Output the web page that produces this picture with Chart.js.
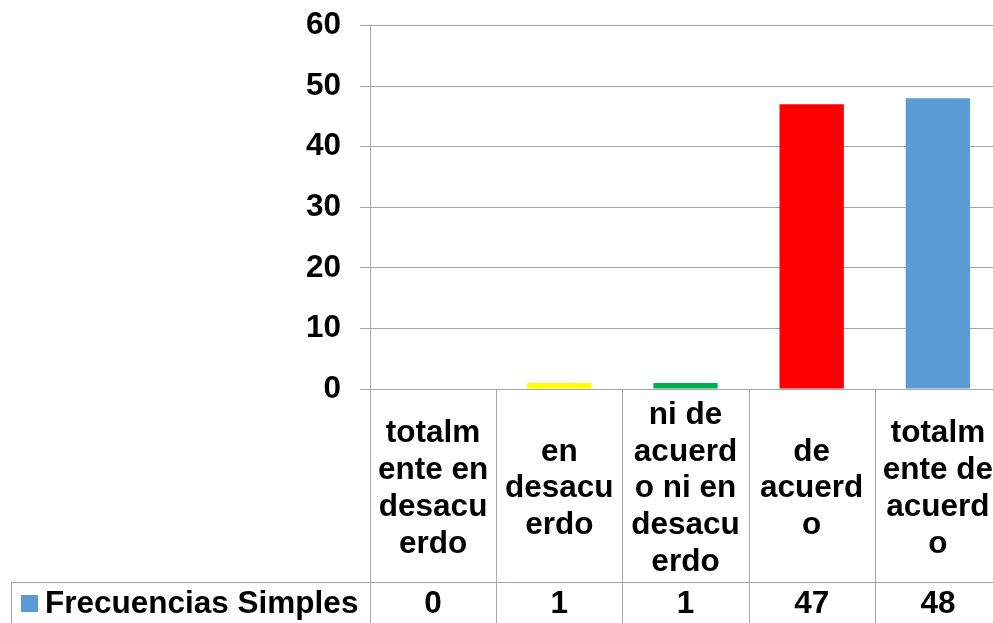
<!DOCTYPE html>
<html>
<head>
<meta charset="utf-8">
<script src="https://cdn.jsdelivr.net/npm/chart.js@4/dist/chart.umd.min.js"></script>
<style>
  html, body { margin: 0; padding: 0; background: #ffffff; overflow: hidden; }
  #wrap { width: 993px; height: 623px; overflow: hidden; position: relative; }
  canvas { display: block; }
</style>
</head>
<body>
<div id="wrap"><canvas id="c" width="1002" height="623"></canvas></div>
<script>
// ---- data ----
const categories = [
  ["totalm", "ente en", "desacu", "erdo"],
  ["en", "desacu", "erdo"],
  ["ni de", "acuerd", "o ni en", "desacu", "erdo"],
  ["de", "acuerd", "o"],
  ["totalm", "ente de", "acuerd", "o"]
];
const seriesName = "Frecuencias Simples";
const frecuencias = [0, 1, 1, 47, 48];
const yMin = 0;
const yMax = 60;
const yStep = 10;

// ---- styles ----
const barColors = ["#5B9BD5", "#FFFF00", "#00B050", "#FF0000", "#5B9BD5"];
const legendColor = "#5B9BD5";
const lineColor = "#A6A6A6";
const fontFamily = '"Liberation Sans", Arial, sans-serif';
const fontSize = 31.5;

const tablePlugin = {
  id: "dataTable",
  afterDraw(chart) {
    const ctx = chart.ctx;
    const x = chart.scales.x;
    const area = chart.chartArea;
    const H = chart.height;
    const rowTop = 582.5;
    const n = categories.length;
    const step = (x.getPixelForValue(1) - x.getPixelForValue(0));
    ctx.save();
    ctx.strokeStyle = lineColor;
    ctx.lineWidth = 1;
    ctx.beginPath();
    ctx.moveTo(11, rowTop);
    ctx.lineTo(chart.width, rowTop);
    ctx.moveTo(11.5, rowTop);
    ctx.lineTo(11.5, H);
    for (let i = 0; i <= n; i++) {
      const bx = Math.round(x.getPixelForValue(0) - step / 2 + i * step) + 0.5;
      ctx.moveTo(bx, area.bottom);
      ctx.lineTo(bx, H);
    }
    ctx.stroke();

    ctx.fillStyle = legendColor;
    ctx.fillRect(21, 595, 17, 17);
    ctx.fillStyle = "#000000";
    ctx.font = "bold " + fontSize + "px " + fontFamily;
    ctx.textBaseline = "middle";
    ctx.textAlign = "left";
    ctx.fillText(seriesName, 45, 604);

    ctx.textAlign = "center";
    frecuencias.forEach((v, i) => {
      ctx.fillText(String(v), x.getPixelForValue(i), 604);
    });
    ctx.restore();
  }
};

new Chart(document.getElementById("c"), {
  type: "bar",
  data: {
    labels: categories,
    datasets: [{
      label: seriesName,
      data: frecuencias,
      backgroundColor: barColors,
      borderWidth: 0,
      barPercentage: 0.51,
      categoryPercentage: 1.0
    }]
  },
  options: {
    responsive: false,
    animation: false,
    layout: { padding: { top: 25.5, bottom: 41, left: 0, right: 1 } },
    plugins: {
      legend: { display: false },
      tooltip: { enabled: false }
    },
    scales: {
      x: {
        offset: true,
        grid: { display: false, drawOnChartArea: false, drawTicks: false },
        border: { display: false },
        ticks: {
          color: "#000000",
          font: { family: fontFamily, size: fontSize, weight: "bold", lineHeight: 1.17 },
          padding: 26,
          maxRotation: 0,
          minRotation: 0,
          autoSkip: false,
          crossAlign: "center"
        },
        afterFit(scale) {
          scale.height = 193;
          scale.paddingLeft = 0;
          scale.paddingRight = 0;
        }
      },
      y: {
        min: yMin,
        max: yMax,
        grid: { color: lineColor, lineWidth: 1, drawTicks: true, tickLength: 10, tickColor: lineColor },
        border: { display: true, color: lineColor, width: 1 },
        ticks: {
          stepSize: yStep,
          color: "#000000",
          padding: 19,
          font: { family: fontFamily, size: fontSize, weight: "bold" }
        },
        afterFit(scale) {
          scale.width = 370;
          scale.paddingTop = 0;
          scale.paddingBottom = 0;
        }
      }
    }
  },
  plugins: [tablePlugin]
});
</script>
</body>
</html>
